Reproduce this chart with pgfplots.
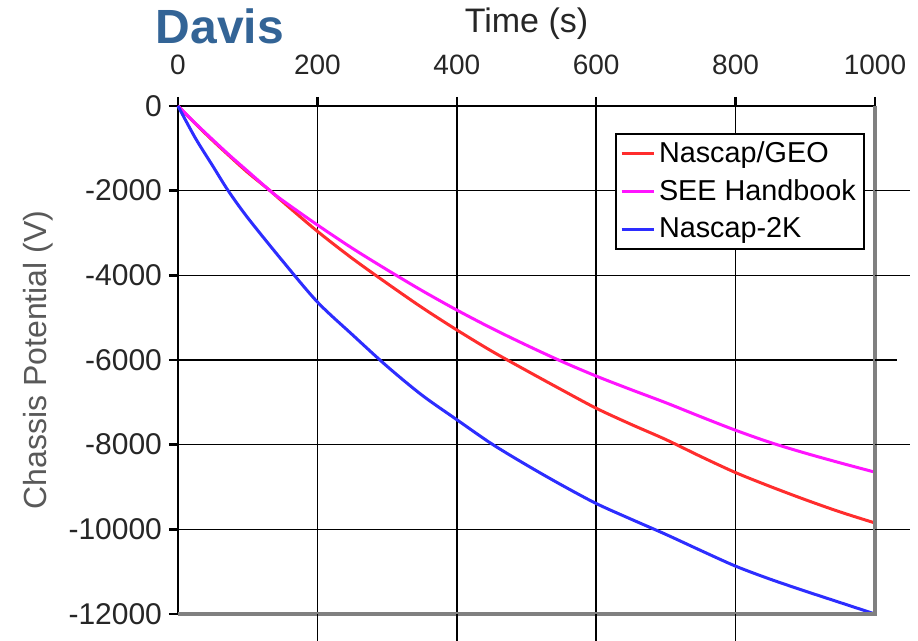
\documentclass[border=0pt]{standalone}
\usepackage{fontspec}
\setmainfont{Liberation Sans}
\usepackage{pgfplots}
\pgfplotsset{compat=1.18}
\definecolor{davis}{RGB}{51,100,150}
\definecolor{cred}{RGB}{255,45,45}
\definecolor{cmag}{RGB}{255,20,255}
\definecolor{cblue}{RGB}{45,45,255}
\begin{document}
\begin{tikzpicture}
\begin{axis}[
  scale only axis, width=348.5pt, height=254pt,
  xmin=0, xmax=1000, ymin=-12000, ymax=0,
  clip=false,
  axis x line*=top, axis y line*=left,
  xtick={0,200,...,1000}, ytick={-12000,-10000,...,0},
  scaled y ticks=false, scaled x ticks=false,
  tick align=outside, major tick length=4.5pt,
  major tick style={black, line width=1.2pt},
  axis line style={black, line width=1.4pt},
  grid=major, major grid style={black, line width=0.75pt},
  /pgf/number format/.cd, 1000 sep={}, assume math mode=true, /pgfplots/.cd,
  xticklabel style={font=\fontsize{14}{16}\selectfont, text=black!85, yshift=7.5pt},
  yticklabel style={font=\fontsize{15}{17}\selectfont, text=black!85},
  xlabel={Time (s)}, ylabel={Chassis Potential (V)},
  x label style={at={(axis description cs:0.5,1)}, anchor=center, yshift=41pt, font=\fontsize{17}{20}\selectfont, text=black!85},
  y label style={at={(axis description cs:0,0.5)}, anchor=center, rotate=0, yshift=70pt, font=\fontsize{16}{19}\selectfont, text=black!65},
  legend style={at={(axis description cs:0.627,0.947)}, anchor=north west, draw=black, line width=1pt, fill=white,
    font=\fontsize{14.4}{16}\selectfont, inner xsep=2pt, inner ysep=2pt, row sep=3pt, cells={anchor=west}},
  legend image code/.code={\draw[#1, line width=1.5pt] (0pt,0pt) -- (16pt,0pt);},
]
\addplot[cred, line width=1.5pt, smooth] coordinates {
(0,0) (25,-420) (50,-820) (75,-1200) (100,-1570) (132,-2000) (150,-2260) (200,-2960) (250,-3600) (300,-4190) (350,-4760) (400,-5290) (450,-5790) (500,-6250) (550,-6700) (600,-7140) (650,-7520) (700,-7880) (750,-8280) (800,-8660) (850,-8990) (900,-9300) (950,-9590) (1000,-9850)};
\addlegendentry{Nascap/GEO}
\addplot[cmag, line width=1.5pt, smooth] coordinates {
(0,0) (25,-410) (50,-800) (75,-1180) (100,-1540) (132,-2000) (150,-2230) (200,-2810) (250,-3360) (300,-3870) (350,-4360) (400,-4820) (450,-5250) (500,-5650) (550,-6030) (600,-6380) (650,-6700) (700,-7010) (750,-7340) (800,-7660) (850,-7950) (900,-8200) (950,-8430) (1000,-8650)};
\addlegendentry{SEE Handbook}
\addplot[cblue, line width=1.5pt, smooth] coordinates {
(0,0) (25,-760) (50,-1420) (72,-2000) (100,-2640) (150,-3660) (200,-4630) (250,-5400) (300,-6150) (350,-6830) (400,-7410) (450,-7980) (500,-8480) (550,-8950) (600,-9390) (650,-9760) (700,-10120) (750,-10500) (800,-10870) (850,-11180) (900,-11460) (950,-11730) (1000,-12000)};
\addlegendentry{Nascap-2K}
\draw[black!50, line width=1.6pt] (rel axis cs:1,1) -- (rel axis cs:1,0) -- (rel axis cs:0,0);
\draw[black, line width=0.75pt] (axis cs:1000,-2000) -- (axis cs:1050,-2000);
\draw[black, line width=0.75pt] (axis cs:1000,-4000) -- (axis cs:1050,-4000);
\draw[black, line width=0.75pt] (axis cs:1000,-6000) -- (axis cs:1032,-6000);
\draw[black, line width=0.75pt] (axis cs:1000,-8000) -- (axis cs:1050,-8000);
\draw[black, line width=0.75pt] (axis cs:1000,-10000) -- (axis cs:1050,-10000);
\draw[black, line width=0.75pt] (axis cs:200,-12000) -- (axis cs:200,-12640);
\draw[black, line width=0.75pt] (axis cs:400,-12000) -- (axis cs:400,-12640);
\draw[black, line width=0.75pt] (axis cs:600,-12000) -- (axis cs:600,-12640);
\draw[black, line width=0.75pt] (axis cs:800,-12000) -- (axis cs:800,-12640);
\end{axis}
\node[font=\fontsize{24}{28}\selectfont\bfseries, text=davis, anchor=center, inner sep=0pt] at (21pt,294pt) {Davis};
\pgfresetboundingbox
\path[use as bounding box] (-89pt,-13.5pt) rectangle (370pt,307pt);
\end{tikzpicture}
\end{document}
